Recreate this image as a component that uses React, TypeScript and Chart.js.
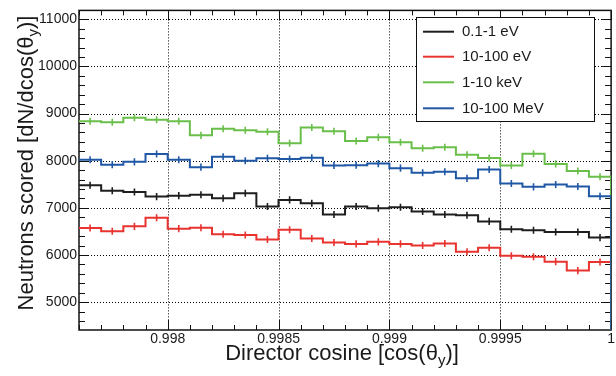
import React, { useEffect, useRef } from "react";
import { Chart, registerables } from "chart.js";

Chart.register(...registerables);

// ---- data ----
const binStart = 0.9976;
const binWidth = 0.0001;
const seriesLabels = ["0.1-1 eV", "10-100 eV", "1-10 keV", "10-100 MeV"];
const seriesColors = ["#1e1e1e", "#e8332f", "#69bf4a", "#2158a6"];
const lowE = [7480, 7365, 7336, 7240, 7260, 7280, 7204, 7310, 7030, 7170, 7100, 6860, 7030, 6994, 7015, 6924, 6860, 6846, 6714, 6546, 6525, 6490, 6490, 6370];
const epiE = [6573, 6504, 6609, 6790, 6560, 6580, 6441, 6426, 6328, 6538, 6350, 6265, 6237, 6280, 6237, 6202, 6244, 6070, 6153, 5985, 5964, 5860, 5670, 5853];
const keV = [8837, 8816, 8914, 8872, 8837, 8539, 8678, 8649, 8616, 8372, 8705, 8628, 8420, 8497, 8392, 8267, 8288, 8128, 8058, 7898, 8148, 7934, 7782, 7662];
const MeV = [8023, 7918, 7977, 8142, 8023, 7865, 8086, 8002, 8052, 8038, 8065, 7898, 7906, 7940, 7844, 7746, 7767, 7627, 7815, 7516, 7447, 7495, 7454, 7245];
const errHalf = 75;
const xTicks = [0.998, 0.9985, 0.999, 0.9995, 1];
const xTickLabels = ["0.998", "0.9985", "0.999", "0.9995", "1"];
const yTicks = [5000, 6000, 7000, 8000, 9000, 10000, 11000];
const xMin = 0.9976, xMax = 1.0;
const yMin = 4410, yMax = 11190;
const xTitle = ["Director cosine [cos(θ", "y", ")]"];
const yTitle = ["Neutrons scored [dN/dcos(θ", "y", ")]"];

const FONT = '"Liberation Sans", Arial, Helvetica, sans-serif';
const allSeries = [lowE, epiE, keV, MeV];

function stepPoints(vals: number[]) {
  const pts = vals.map((v, i) => ({ x: binStart + i * binWidth, y: v }));
  const last = vals[vals.length - 1];
  pts.push({ x: binStart + vals.length * binWidth, y: last });
  pts.push({ x: binStart + vals.length * binWidth, y: 0 });
  return pts;
}

function drawSubText(ctx: CanvasRenderingContext2D, parts: string[], size: number, subSize: number, x: number, y: number) {
  ctx.font = `${size}px ${FONT}`;
  const w0 = ctx.measureText(parts[0]).width;
  const w2 = ctx.measureText(parts[2]).width;
  ctx.font = `${subSize}px ${FONT}`;
  const w1 = ctx.measureText(parts[1]).width;
  const total = w0 + w1 + w2;
  let cx = x - total / 2;
  ctx.textAlign = "left";
  ctx.textBaseline = "alphabetic";
  ctx.font = `${size}px ${FONT}`;
  ctx.fillText(parts[0], cx, y);
  cx += w0;
  ctx.font = `${subSize}px ${FONT}`;
  ctx.fillText(parts[1], cx, y + 5);
  cx += w1;
  ctx.font = `${size}px ${FONT}`;
  ctx.fillText(parts[2], cx, y);
}

const decorPlugin = {
  id: "decor",
  beforeDatasetsDraw(chart: any) {
    const ctx = chart.ctx as CanvasRenderingContext2D;
    const { left, right, top, bottom } = chart.chartArea;
    const xs = chart.scales.x, ys = chart.scales.y;
    ctx.save();
    // dotted grid
    ctx.strokeStyle = "#000";
    ctx.lineWidth = 1;
    ctx.setLineDash([1, 2]);
    for (const v of xTicks) {
      const px = Math.round(xs.getPixelForValue(v)) + 0.5;
      if (px > right - 2) continue;
      ctx.beginPath(); ctx.moveTo(px, top); ctx.lineTo(px, bottom); ctx.stroke();
    }
    for (const v of yTicks) {
      const py = Math.round(ys.getPixelForValue(v)) + 0.5;
      ctx.beginPath(); ctx.moveTo(left, py); ctx.lineTo(right, py); ctx.stroke();
    }
    ctx.setLineDash([]);
    // frame
    ctx.lineWidth = 1.5;
    ctx.strokeStyle = "#111";
    ctx.strokeRect(left, top, right - left, bottom - top);
    // y ticks (left and right, inward)
    ctx.lineWidth = 1;
    for (let v = 4600; v <= yMax; v += 200) {
      const major = v % 1000 === 0;
      const py = Math.round(ys.getPixelForValue(v)) + 0.5;
      const len = major ? 9 : 6;
      ctx.beginPath();
      ctx.moveTo(left, py); ctx.lineTo(left + len, py);
      ctx.moveTo(right, py); ctx.lineTo(right - len, py);
      ctx.stroke();
    }
    // x ticks (bottom and top, inward)
    for (let i = 0; i <= 24; i++) {
      const v = binStart + i * binWidth;
      const major = xTicks.some((t) => Math.abs(t - v) < 1e-9);
      const px = Math.round(xs.getPixelForValue(v)) + 0.5;
      const len = major ? 10 : 5;
      ctx.beginPath();
      ctx.moveTo(px, bottom); ctx.lineTo(px, bottom - len);
      ctx.moveTo(px, top); ctx.lineTo(px, top + len);
      ctx.stroke();
    }
    ctx.restore();
  },
  afterDatasetsDraw(chart: any) {
    const ctx = chart.ctx as CanvasRenderingContext2D;
    const { left, right, top, bottom } = chart.chartArea;
    const xs = chart.scales.x, ys = chart.scales.y;
    ctx.save();
    ctx.beginPath();
    ctx.rect(left, top, right - left, bottom - top);
    ctx.clip();
    // error bars
    allSeries.forEach((vals, s) => {
      ctx.strokeStyle = seriesColors[s];
      ctx.lineWidth = 1.6;
      vals.forEach((v, i) => {
        const px = xs.getPixelForValue(binStart + (i + 0.5) * binWidth);
        ctx.beginPath();
        ctx.moveTo(px, ys.getPixelForValue(v - errHalf));
        ctx.lineTo(px, ys.getPixelForValue(v + errHalf));
        ctx.stroke();
      });
    });
    ctx.restore();
    ctx.save();
    // legend
    const lx = 416.5, ly = 17.5, lw = 178, lh = 104;
    ctx.fillStyle = "#fff";
    ctx.fillRect(lx, ly, lw, lh);
    ctx.strokeStyle = "#111";
    ctx.lineWidth = 1;
    ctx.strokeRect(lx, ly, lw, lh);
    const rows = [31.7, 56.7, 82.3, 108.3];
    seriesLabels.forEach((lab, s) => {
      ctx.strokeStyle = seriesColors[s];
      ctx.lineWidth = 2;
      ctx.beginPath();
      ctx.moveTo(423, rows[s]); ctx.lineTo(454, rows[s]);
      ctx.stroke();
      ctx.fillStyle = "#1a1a1a";
      ctx.font = `15px ${FONT}`;
      ctx.textAlign = "left";
      ctx.textBaseline = "middle";
      ctx.fillText(lab, 462, rows[s] + 0.5);
    });
    // axis titles
    ctx.fillStyle = "#1a1a1a";
    drawSubText(ctx, xTitle, 22, 15, 342, 359.5);
    ctx.translate(33, 163);
    ctx.rotate(-Math.PI / 2);
    drawSubText(ctx, yTitle, 22, 15, 0, 0);
    ctx.restore();
  },
};

export default function App() {
  const ref = useRef<HTMLCanvasElement | null>(null);
  useEffect(() => {
    if (!ref.current) return;
    const order = [3, 2, 1, 0];
    const chart = new Chart(ref.current, {
      type: "line",
      data: {
        datasets: allSeries.map((vals, s) => ({
          label: seriesLabels[s],
          data: stepPoints(vals),
          borderColor: seriesColors[s],
          borderWidth: 2,
          pointRadius: 0,
          stepped: "before" as const,
          fill: false,
          order: order[s],
        })),
      },
      options: {
        responsive: false,
        animation: false,
        events: [],
        layout: { padding: { left: 0, right: 4, top: 5, bottom: 0 } },
        plugins: { legend: { display: false }, tooltip: { enabled: false } },
        scales: {
          x: {
            type: "linear",
            min: xMin,
            max: xMax,
            grid: { display: false, drawTicks: false },
            border: { display: false },
            afterBuildTicks: (scale: any) => {
              scale.ticks = xTicks.map((v) => ({ value: v }));
            },
            afterFit: (scale: any) => { scale.height = 46; },
            ticks: {
              autoSkip: false,
              maxRotation: 0,
              padding: 1,
              color: "#1a1a1a",
              font: { family: FONT, size: 14 },
              callback: (_v: any, i: number) => xTickLabels[i],
            },
          },
          y: {
            type: "linear",
            min: yMin,
            max: yMax,
            grid: { display: false, drawTicks: false },
            border: { display: false },
            afterBuildTicks: (scale: any) => {
              scale.ticks = yTicks.map((v) => ({ value: v }));
            },
            afterFit: (scale: any) => { scale.width = 79; },
            ticks: {
              padding: 2,
              color: "#1a1a1a",
              font: { family: FONT, size: 14 },
              callback: (v: any) => String(v),
            },
          },
        },
      },
      plugins: [decorPlugin],
    });
    return () => chart.destroy();
  }, []);
  return (
    <div style={{ position: "absolute", left: 0, top: 0, width: 616, height: 376, background: "#fff" }}>
      <canvas ref={ref} width={616} height={376} />
    </div>
  );
}
